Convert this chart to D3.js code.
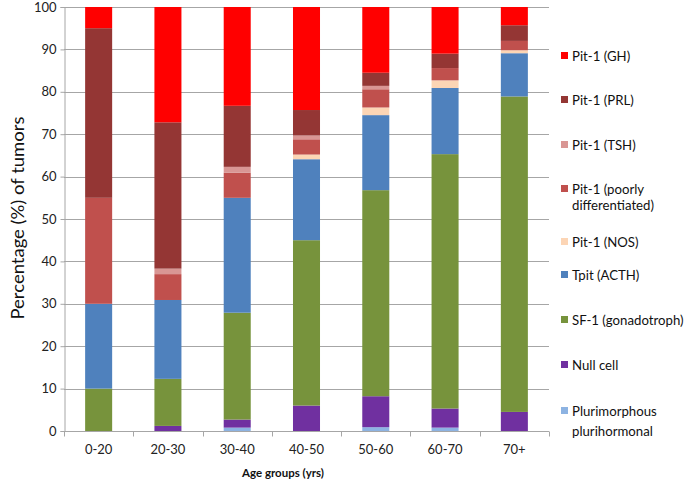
<!DOCTYPE html>
<html><head><meta charset="utf-8">
<script src="https://cdn.jsdelivr.net/npm/d3@7"></script>
<style>body{margin:0;background:#fff}svg{display:block}text{font-family:Lato,"Open Sans",sans-serif}</style>
</head><body><div id="chart"></div>
<script>
const categories = ["0-20","20-30","30-40","40-50","50-60","60-70","70+"];
// bottom to top stacking order
const seriesNames = ["Plurimorphous plurihormonal","Null cell","SF-1 (gonadotroph)","Tpit (ACTH)","Pit-1 (NOS)","Pit-1 (poorly differentiated)","Pit-1 (TSH)","Pit-1 (PRL)","Pit-1 (GH)"];
const colors = ["#8db3e2","#7030a0","#77933c","#4f81bd","#fcd5b5","#c0504d","#d99694","#943634","#ff0000"];
const pluri  = [0,   0,   0.8, 0,   0.9, 0.8, 0];
const nullc  = [0,   1.2, 1.9, 6.0, 7.3, 4.5, 4.5];
const sf1    = [10,  11.1,25.2,39.0,48.6,60.0,74.4];
const acth   = [20,  18.6,27.1,19.1,17.7,15.6,10.2];
const nos    = [0,   0,   0,   1.1, 1.8, 1.8, 0.7];
const poorly = [25,  6.1, 5.9, 3.6, 4.3, 2.9, 2.2];
const tsh    = [0,   1.3, 1.4, 0.9, 0.8, 0,   0];
const prl    = [40,  34.5,14.4,6.0, 3.1, 3.4, 3.7];
const gh     = [5,   27.2,23.3,24.3,15.5,11.0,4.3];
const seriesValues = [pluri,nullc,sf1,acth,nos,poorly,tsh,prl,gh];
const yTicks = [0,10,20,30,40,50,60,70,80,90,100];
const legendOrder = ["Pit-1 (GH)","Pit-1 (PRL)","Pit-1 (TSH)","Pit-1 (poorly differentiated)","Pit-1 (NOS)","Tpit (ACTH)","SF-1 (gonadotroph)","Null cell","Plurimorphous plurihormonal"];
const legendLines = {"Pit-1 (poorly differentiated)":["Pit-1 (poorly","differentiated)"],"Plurimorphous plurihormonal":["Plurimorphous","plurihormonal"]};

(function(){
const W=685,H=485;
const svg=d3.select("#chart").append("svg").attr("width",W).attr("height",H);
const pL=64,pR=549,pT=7,pB=431;
const x=d3.scaleBand().domain(categories).range([pL,pR]).paddingInner(0.61).paddingOuter(0.305);
const y=d3.scaleLinear().domain([0,100]).range([pB,pT]);

svg.append("g").selectAll("line").data(yTicks.slice(1)).join("line")
  .attr("x1",pL).attr("x2",pR).attr("y1",d=>Math.round(y(d))+0.5).attr("y2",d=>Math.round(y(d))+0.5)
  .attr("stroke","#a6a6a6").attr("stroke-width",1);

const rows=categories.map((c,i)=>{const o={cat:c};seriesNames.forEach((s,j)=>o[s]=seriesValues[j][i]);return o;});
const stack=d3.stack().keys(seriesNames)(rows);
svg.append("g").selectAll("g").data(stack).join("g").attr("fill",(d,i)=>colors[i])
  .selectAll("rect").data(d=>d).join("rect")
  .attr("x",d=>x(d.data.cat)).attr("width",x.bandwidth())
  .attr("y",d=>y(d[1])).attr("height",d=>Math.max(0,y(d[0])-y(d[1])));

const ya=svg.append("g").attr("transform",`translate(${pL+0.5},0)`)
  .call(d3.axisLeft(y).tickValues(yTicks).tickSize(4).tickPadding(4));
ya.select(".domain").attr("stroke","#a6a6a6");
ya.selectAll(".tick line").attr("stroke","#a6a6a6");
ya.selectAll(".tick text").attr("font-size","13px").attr("fill","#222").style("font-family","Lato,sans-serif");

const step=x.step();
const xa=svg.append("g").attr("transform",`translate(0,${pB+0.5})`);
xa.append("line").attr("x1",pL).attr("x2",pR).attr("stroke","#a6a6a6");
xa.selectAll("line.t").data(d3.range(categories.length+1)).join("line").attr("class","t")
  .attr("x1",i=>Math.round(pL+i*step)+0.5).attr("x2",i=>Math.round(pL+i*step)+0.5)
  .attr("y1",0).attr("y2",5).attr("stroke","#a6a6a6");
xa.selectAll("text").data(categories).join("text")
  .attr("x",d=>x(d)+x.bandwidth()/2).attr("y",22).attr("text-anchor","middle")
  .attr("font-size","13px").attr("fill","#222").text(d=>d);

svg.append("text").attr("x",283).attr("y",477).attr("text-anchor","middle")
  .attr("font-size","11.5px").attr("font-weight","bold").attr("fill","#111").text("Age groups (yrs)");
svg.append("text").attr("transform",`translate(24,218) rotate(-90)`).attr("text-anchor","middle")
  .attr("font-size","18px").attr("fill","#111").attr("textLength",203).attr("lengthAdjust","spacingAndGlyphs")
  .text("Percentage (%) of tumors");

const legendY=[56,100,145,189,242,275,320,365,411];
const lineGap={"Pit-1 (poorly differentiated)":16,"Plurimorphous plurihormonal":20};
const lg=svg.append("g");
legendOrder.forEach((name,i)=>{
  const ci=seriesNames.indexOf(name);
  const g=lg.append("g").attr("transform",`translate(561,${legendY[i]})`);
  g.append("rect").attr("x",0).attr("y",-4).attr("width",7).attr("height",7).attr("fill",colors[ci]);
  const lines=legendLines[name]||[name];
  lines.forEach((t,k)=>g.append("text").attr("x",11).attr("y",k*(lineGap[name]||0)).attr("dy","0.35em")
    .attr("font-size","13.2px").attr("fill","#111").text(t));
});
})();
</script></body></html>
